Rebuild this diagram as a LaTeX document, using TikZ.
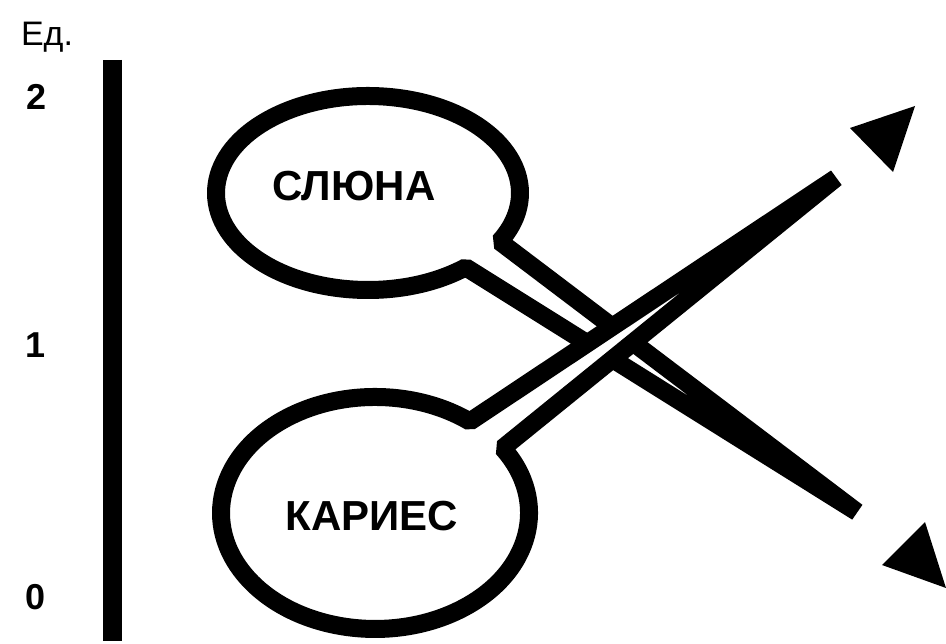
\documentclass[tikz,border=0pt]{standalone}
\usepackage{fontspec}
\setmainfont{Liberation Sans}
\begin{document}
\begin{tikzpicture}[x=1pt,y=-1pt,
  bubble/.style={draw=black,fill=white,line width=18pt,line join=bevel},
  axisbar/.style={line width=19pt},
  headtri/.style={fill=black},
  biglabel/.style={font=\bfseries\fontsize{42}{42}\selectfont},
  ticklabel/.style={font=\bfseries\fontsize{36}{36}\selectfont},
  unitlabel/.style={font=\fontsize{34}{34}\selectfont}]
\useasboundingbox (0,0) rectangle (946,644);
% axis
\coordinate (atop) at (112.5,60);
\coordinate (abot) at (112.5,641);
\draw[axisbar] (atop) -- (abot);
\node[unitlabel] (unit) at (47,37) {Ед.};
\node[ticklabel] (two) at (37,97) {2};
\node[ticklabel] (one) at (36,345) {1};
\node[ticklabel] (zero) at (36,597) {0};
% tails' tips
\coordinate (t1) at (857,512);
\coordinate (t2) at (836,178);
% top bubble: centre (368,193), radii 152 x 97
\coordinate (b1) at (465.7,267.3);
\path[bubble] (b1) arc[start angle=50,end angle=390,x radius=152,y radius=97] -- (t1) -- cycle;
% bottom bubble: centre (375,513), radii 154 x 116
\coordinate (b2) at (502.7,448.1);
\path[bubble] (b2) arc[start angle=-34,end angle=308,x radius=154,y radius=116] -- (t2) -- cycle;
\node[biglabel] (saliva) at (354,186) {СЛЮНА};
\node[biglabel] (caries) at (372,516) {КАРИЕС};
% arrowheads
\coordinate (h1a) at (850,128);
\coordinate (h1b) at (915,106);
\coordinate (h1c) at (893,172);
\fill[headtri] (h1a) -- (h1b) -- (h1c) -- cycle;
\coordinate (h2a) at (925,522);
\coordinate (h2b) at (882,565);
\coordinate (h2c) at (946,588);
\fill[headtri] (h2a) -- (h2b) -- (h2c) -- cycle;
\end{tikzpicture}
\end{document}
